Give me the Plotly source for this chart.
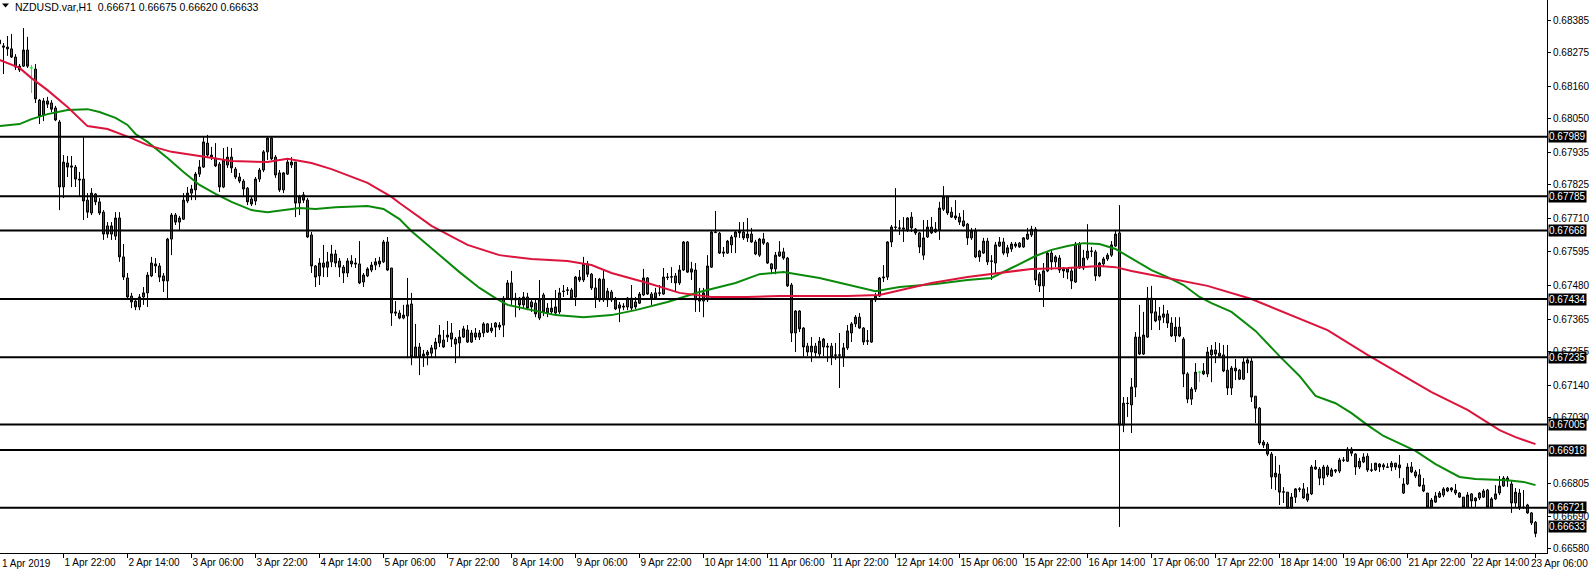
import plotly.graph_objects as go

# ---------------- data ----------------
bar_index = list(range(385))

open_ = [
0.68319,0.68299,0.68295,0.68289,0.68261,0.68217,0.68230,0.68285,0.68224,0.68220,
0.68114,0.68063,0.68111,0.68104,0.68087,0.68039,0.67817,0.67899,0.67889,0.67885,
0.67844,0.67844,0.67772,0.67728,0.67793,0.67766,0.67731,0.67684,0.67656,0.67649,
0.67711,0.67578,0.67506,0.67444,0.67427,0.67407,0.67441,0.67455,0.67513,0.67554,
0.67547,0.67513,0.67496,0.67639,0.67721,0.67697,0.67707,0.67769,0.67796,0.67807,
0.67861,0.67885,0.67967,0.67926,0.67916,0.67895,0.67817,0.67892,0.67919,0.67878,
0.67851,0.67837,0.67813,0.67776,0.67769,0.67844,0.67875,0.67937,0.67984,0.67919,
0.67865,0.67807,0.67861,0.67892,0.67902,0.67762,0.67790,0.67772,0.67653,0.67547,
0.67513,0.67557,0.67543,0.67561,0.67588,0.67564,0.67543,0.67523,0.67564,0.67557,
0.67554,0.67492,0.67513,0.67533,0.67550,0.67554,0.67561,0.67629,0.67540,0.67390,
0.67386,0.67369,0.67376,0.67417,0.67236,0.67270,0.67239,0.67243,0.67249,0.67263,
0.67284,0.67294,0.67311,0.67318,0.67297,0.67284,0.67304,0.67328,0.67287,0.67318,
0.67304,0.67318,0.67349,0.67325,0.67352,0.67338,0.67345,0.67437,0.67489,0.67431,
0.67437,0.67414,0.67441,0.67424,0.67420,0.67369,0.67448,0.67403,0.67390,0.67386,
0.67390,0.67461,0.67465,0.67465,0.67441,0.67509,0.67499,0.67554,0.67519,0.67472,
0.67431,0.67502,0.67431,0.67458,0.67431,0.67414,0.67410,0.67407,0.67437,0.67424,
0.67420,0.67448,0.67506,0.67451,0.67455,0.67455,0.67451,0.67509,0.67509,0.67513,
0.67489,0.67533,0.67629,0.67537,0.67533,0.67437,0.67427,0.67431,0.67543,0.67663,
0.67659,0.67595,0.67591,0.67619,0.67646,0.67666,0.67663,0.67643,0.67656,0.67629,
0.67584,0.67639,0.67625,0.67554,0.67537,0.67595,0.67595,0.67574,0.67482,0.67318,
0.67393,0.67335,0.67273,0.67253,0.67273,0.67246,0.67270,0.67273,0.67273,0.67243,
0.67242,0.67236,0.67267,0.67318,0.67349,0.67372,0.67335,0.67290,0.67287,0.67431,
0.67444,0.67506,0.67509,0.67629,0.67680,0.67677,0.67677,0.67670,0.67714,0.67673,
0.67660,0.67584,0.67646,0.67680,0.67673,0.67670,0.67741,0.67783,0.67731,0.67718,
0.67714,0.67701,0.67690,0.67643,0.67666,0.67598,0.67591,0.67632,0.67564,0.67557,
0.67615,0.67629,0.67591,0.67605,0.67615,0.67625,0.67612,0.67639,0.67653,0.67673,
0.67519,0.67479,0.67530,0.67591,0.67561,0.67574,0.67540,0.67537,0.67530,0.67492,
0.67622,0.67540,0.67574,0.67598,0.67595,0.67513,0.67554,0.67571,0.67584,0.67615,
0.67660,0.67003,0.67078,0.67072,0.67133,0.67304,0.67246,0.67304,0.67437,0.67390,
0.67362,0.67372,0.67383,0.67352,0.67308,0.67338,0.67297,0.67178,0.67092,0.67126,
0.67184,0.67188,0.67178,0.67243,0.67260,0.67249,0.67243,0.67191,0.67130,0.67198,
0.67191,0.67160,0.67215,0.67222,0.67102,0.67061,0.66945,0.66938,0.66904,0.66826,
0.66836,0.66774,0.66774,0.66720,0.66757,0.66785,0.66785,0.66747,0.66768,0.66860,
0.66853,0.66822,0.66860,0.66829,0.66850,0.66846,0.66884,0.66880,0.66921,0.66904,
0.66860,0.66877,0.66897,0.66850,0.66850,0.66870,0.66860,0.66860,0.66860,0.66873,
0.66867,0.66771,0.66802,0.66860,0.66843,0.66833,0.66798,0.66771,0.66723,0.66740,
0.66757,0.66764,0.66788,0.66788,0.66781,0.66771,0.66757,0.66723,0.66768,0.66754,
0.66754,0.66757,0.66781,0.66723,0.66751,0.66771,0.66795,0.66822,0.66802,0.66737,
0.66771,0.66723,0.66730,0.66703,0.66671]

high = [
0.68364,0.68309,0.68333,0.68340,0.68271,0.68237,0.68360,0.68330,0.68234,0.68237,
0.68118,0.68121,0.68125,0.68114,0.68094,0.68046,0.67926,0.67923,0.67923,0.67892,
0.67868,0.67988,0.67796,0.67813,0.67796,0.67779,0.67738,0.67697,0.67697,0.67731,
0.67731,0.67622,0.67523,0.67455,0.67437,0.67451,0.67475,0.67526,0.67578,0.67574,
0.67557,0.67523,0.67643,0.67728,0.67728,0.67718,0.67796,0.67817,0.67824,0.67868,
0.67909,0.67988,0.67995,0.67954,0.67967,0.67902,0.67950,0.67954,0.67950,0.67885,
0.67865,0.67844,0.67817,0.67783,0.67851,0.67882,0.67943,0.67988,0.67988,0.67926,
0.67875,0.67868,0.67909,0.67919,0.67902,0.67790,0.67800,0.67779,0.67663,0.67550,
0.67574,0.67619,0.67595,0.67619,0.67602,0.67574,0.67550,0.67574,0.67584,0.67574,
0.67632,0.67523,0.67543,0.67561,0.67574,0.67578,0.67636,0.67646,0.67540,0.67427,
0.67396,0.67414,0.67506,0.67455,0.67349,0.67284,0.67260,0.67260,0.67277,0.67301,
0.67345,0.67328,0.67359,0.67352,0.67304,0.67328,0.67342,0.67345,0.67328,0.67335,
0.67328,0.67355,0.67352,0.67352,0.67355,0.67355,0.67444,0.67499,0.67530,0.67455,
0.67441,0.67458,0.67455,0.67437,0.67437,0.67499,0.67455,0.67420,0.67431,0.67465,
0.67472,0.67482,0.67475,0.67472,0.67513,0.67533,0.67578,0.67564,0.67523,0.67506,
0.67506,0.67533,0.67472,0.67465,0.67441,0.67424,0.67420,0.67441,0.67482,0.67441,
0.67458,0.67537,0.67509,0.67458,0.67472,0.67482,0.67540,0.67523,0.67543,0.67523,
0.67550,0.67632,0.67632,0.67561,0.67557,0.67472,0.67472,0.67584,0.67670,0.67735,
0.67663,0.67612,0.67636,0.67653,0.67670,0.67697,0.67697,0.67711,0.67677,0.67636,
0.67643,0.67660,0.67629,0.67557,0.67595,0.67632,0.67609,0.67578,0.67489,0.67396,
0.67396,0.67338,0.67284,0.67304,0.67284,0.67304,0.67301,0.67284,0.67284,0.67284,
0.67318,0.67284,0.67345,0.67355,0.67379,0.67386,0.67338,0.67328,0.67437,0.67455,
0.67509,0.67550,0.67632,0.67687,0.67813,0.67704,0.67714,0.67714,0.67731,0.67677,
0.67663,0.67704,0.67704,0.67714,0.67697,0.67766,0.67820,0.67786,0.67748,0.67772,
0.67728,0.67738,0.67694,0.67677,0.67677,0.67602,0.67643,0.67643,0.67584,0.67629,
0.67646,0.67643,0.67619,0.67629,0.67629,0.67629,0.67646,0.67677,0.67684,0.67680,
0.67526,0.67557,0.67595,0.67602,0.67584,0.67584,0.67543,0.67540,0.67540,0.67629,
0.67629,0.67602,0.67690,0.67612,0.67602,0.67561,0.67578,0.67591,0.67632,0.67670,
0.67755,0.67099,0.67099,0.67164,0.67321,0.67414,0.67390,0.67475,0.67479,0.67431,
0.67407,0.67414,0.67396,0.67372,0.67372,0.67372,0.67304,0.67184,0.67133,0.67215,
0.67188,0.67215,0.67270,0.67277,0.67287,0.67284,0.67277,0.67277,0.67205,0.67229,
0.67195,0.67232,0.67232,0.67232,0.67102,0.67065,0.66952,0.66945,0.66911,0.66897,
0.66867,0.66791,0.66774,0.66771,0.66788,0.66791,0.66805,0.66791,0.66867,0.66884,
0.66860,0.66867,0.66867,0.66857,0.66853,0.66891,0.66894,0.66928,0.66928,0.66907,
0.66891,0.66907,0.66907,0.66873,0.66874,0.66873,0.66873,0.66873,0.66880,0.66874,
0.66901,0.66822,0.66873,0.66877,0.66850,0.66853,0.66822,0.66771,0.66754,0.66774,
0.66778,0.66791,0.66791,0.66791,0.66802,0.66774,0.66757,0.66774,0.66771,0.66757,
0.66774,0.66785,0.66785,0.66757,0.66798,0.66829,0.66829,0.66829,0.66815,0.66788,
0.66785,0.66781,0.66734,0.66706,0.66675]

low = [
0.68285,0.68203,0.68265,0.68258,0.68217,0.68210,0.68227,0.68224,0.68138,0.68104,
0.68032,0.68042,0.68087,0.68073,0.68042,0.67738,0.67779,0.67851,0.67817,0.67817,
0.67783,0.67704,0.67711,0.67721,0.67755,0.67721,0.67636,0.67643,0.67636,0.67636,
0.67561,0.67499,0.67431,0.67403,0.67396,0.67396,0.67414,0.67407,0.67509,0.67523,
0.67492,0.67458,0.67431,0.67584,0.67687,0.67670,0.67704,0.67762,0.67772,0.67772,
0.67851,0.67882,0.67916,0.67909,0.67885,0.67800,0.67813,0.67882,0.67865,0.67844,
0.67830,0.67783,0.67755,0.67752,0.67755,0.67834,0.67868,0.67909,0.67909,0.67848,
0.67800,0.67796,0.67858,0.67882,0.67714,0.67721,0.67762,0.67643,0.67523,0.67475,
0.67482,0.67509,0.67509,0.67543,0.67543,0.67509,0.67489,0.67509,0.67543,0.67540,
0.67485,0.67475,0.67509,0.67526,0.67533,0.67543,0.67557,0.67530,0.67342,0.67376,
0.67365,0.67365,0.67232,0.67208,0.67232,0.67174,0.67202,0.67208,0.67236,0.67236,
0.67270,0.67267,0.67287,0.67270,0.67215,0.67236,0.67301,0.67284,0.67284,0.67294,
0.67294,0.67304,0.67318,0.67318,0.67304,0.67328,0.67304,0.67431,0.67414,0.67372,
0.67396,0.67403,0.67396,0.67390,0.67372,0.67362,0.67376,0.67372,0.67383,0.67379,
0.67383,0.67441,0.67448,0.67431,0.67410,0.67492,0.67492,0.67509,0.67465,0.67403,
0.67424,0.67424,0.67407,0.67424,0.67396,0.67355,0.67396,0.67396,0.67396,0.67400,
0.67417,0.67444,0.67448,0.67414,0.67431,0.67444,0.67448,0.67499,0.67489,0.67458,
0.67482,0.67530,0.67523,0.67499,0.67390,0.67390,0.67372,0.67424,0.67540,0.67659,
0.67588,0.67578,0.67588,0.67591,0.67591,0.67643,0.67636,0.67629,0.67626,0.67584,
0.67578,0.67619,0.67554,0.67519,0.67519,0.67578,0.67568,0.67475,0.67287,0.67253,
0.67321,0.67236,0.67239,0.67219,0.67236,0.67236,0.67239,0.67219,0.67208,0.67226,
0.67130,0.67202,0.67260,0.67287,0.67338,0.67332,0.67277,0.67277,0.67284,0.67424,
0.67441,0.67492,0.67499,0.67612,0.67670,0.67653,0.67629,0.67663,0.67663,0.67653,
0.67591,0.67568,0.67643,0.67656,0.67660,0.67636,0.67735,0.67721,0.67711,0.67704,
0.67687,0.67680,0.67619,0.67636,0.67574,0.67561,0.67588,0.67550,0.67499,0.67523,
0.67612,0.67584,0.67578,0.67595,0.67609,0.67609,0.67609,0.67636,0.67646,0.67482,
0.67458,0.67407,0.67526,0.67533,0.67543,0.67523,0.67506,0.67502,0.67468,0.67489,
0.67537,0.67533,0.67567,0.67578,0.67496,0.67509,0.67543,0.67564,0.67578,0.67612,
0.66655,0.66979,0.67031,0.66976,0.67099,0.67243,0.67243,0.67301,0.67328,0.67355,
0.67328,0.67352,0.67335,0.67304,0.67287,0.67304,0.67133,0.67078,0.67072,0.67116,
0.67150,0.67174,0.67167,0.67150,0.67215,0.67236,0.67184,0.67106,0.67106,0.67157,
0.67157,0.67157,0.67181,0.67082,0.67010,0.66935,0.66925,0.66897,0.66785,0.66781,
0.66730,0.66737,0.66717,0.66717,0.66737,0.66774,0.66751,0.66740,0.66764,0.66850,
0.66798,0.66798,0.66826,0.66826,0.66839,0.66839,0.66877,0.66877,0.66897,0.66833,
0.66853,0.66873,0.66843,0.66843,0.66846,0.66843,0.66850,0.66857,0.66846,0.66850,
0.66822,0.66768,0.66798,0.66839,0.66822,0.66792,0.66774,0.66720,0.66720,0.66737,
0.66754,0.66757,0.66774,0.66774,0.66764,0.66754,0.66720,0.66720,0.66723,0.66723,
0.66747,0.66754,0.66720,0.66720,0.66747,0.66764,0.66792,0.66792,0.66703,0.66723,
0.66713,0.66717,0.66700,0.66662,0.66620]

close = [
0.68306,0.68295,0.68289,0.68261,0.68227,0.68230,0.68285,0.68230,0.68224,0.68118,
0.68060,0.68111,0.68100,0.68083,0.68046,0.67817,0.67902,0.67885,0.67885,0.67844,
0.67841,0.67769,0.67731,0.67796,0.67766,0.67728,0.67656,0.67656,0.67684,0.67711,
0.67578,0.67509,0.67441,0.67424,0.67407,0.67441,0.67455,0.67516,0.67557,0.67547,
0.67509,0.67496,0.67639,0.67721,0.67697,0.67711,0.67772,0.67796,0.67810,0.67861,
0.67885,0.67971,0.67926,0.67919,0.67889,0.67817,0.67909,0.67919,0.67882,0.67851,
0.67837,0.67810,0.67766,0.67759,0.67844,0.67875,0.67937,0.67984,0.67913,0.67858,
0.67807,0.67865,0.67902,0.67902,0.67762,0.67783,0.67772,0.67646,0.67547,0.67509,
0.67557,0.67543,0.67561,0.67588,0.67557,0.67543,0.67523,0.67564,0.67554,0.67554,
0.67489,0.67516,0.67537,0.67550,0.67561,0.67564,0.67629,0.67533,0.67386,0.67386,
0.67369,0.67379,0.67414,0.67236,0.67270,0.67236,0.67246,0.67253,0.67267,0.67287,
0.67311,0.67270,0.67304,0.67297,0.67280,0.67304,0.67332,0.67287,0.67318,0.67304,
0.67318,0.67349,0.67321,0.67335,0.67338,0.67345,0.67437,0.67489,0.67431,0.67437,
0.67414,0.67441,0.67403,0.67407,0.67383,0.67431,0.67390,0.67386,0.67403,0.67407,
0.67455,0.67460,0.67464,0.67437,0.67509,0.67499,0.67554,0.67519,0.67472,0.67437,
0.67502,0.67431,0.67461,0.67431,0.67400,0.67403,0.67407,0.67437,0.67403,0.67407,
0.67451,0.67506,0.67451,0.67437,0.67437,0.67454,0.67509,0.67508,0.67510,0.67489,
0.67533,0.67629,0.67526,0.67526,0.67431,0.67427,0.67455,0.67547,0.67663,0.67662,
0.67591,0.67591,0.67632,0.67646,0.67663,0.67660,0.67643,0.67656,0.67629,0.67588,
0.67639,0.67625,0.67557,0.67537,0.67584,0.67581,0.67574,0.67479,0.67318,0.67393,
0.67332,0.67270,0.67253,0.67273,0.67250,0.67290,0.67297,0.67270,0.67236,0.67242,
0.67243,0.67267,0.67325,0.67349,0.67372,0.67335,0.67287,0.67291,0.67431,0.67444,
0.67506,0.67509,0.67629,0.67680,0.67679,0.67676,0.67673,0.67711,0.67677,0.67660,
0.67612,0.67643,0.67680,0.67660,0.67663,0.67745,0.67783,0.67728,0.67714,0.67711,
0.67697,0.67684,0.67643,0.67666,0.67578,0.67578,0.67632,0.67561,0.67563,0.67619,
0.67629,0.67591,0.67609,0.67622,0.67622,0.67612,0.67643,0.67656,0.67673,0.67499,
0.67479,0.67530,0.67591,0.67561,0.67578,0.67533,0.67530,0.67526,0.67496,0.67622,
0.67540,0.67574,0.67598,0.67597,0.67513,0.67557,0.67571,0.67584,0.67619,0.67656,
0.67003,0.67078,0.67077,0.67133,0.67304,0.67246,0.67311,0.67437,0.67386,0.67359,
0.67376,0.67383,0.67352,0.67308,0.67338,0.67308,0.67178,0.67092,0.67126,0.67184,
0.67184,0.67178,0.67253,0.67260,0.67246,0.67239,0.67188,0.67130,0.67198,0.67188,
0.67160,0.67219,0.67226,0.67099,0.67061,0.66942,0.66935,0.66904,0.66826,0.66839,
0.66774,0.66775,0.66720,0.66757,0.66785,0.66784,0.66754,0.66768,0.66860,0.66853,
0.66822,0.66860,0.66833,0.66850,0.66846,0.66884,0.66883,0.66921,0.66907,0.66860,
0.66880,0.66894,0.66850,0.66849,0.66873,0.66860,0.66867,0.66859,0.66873,0.66860,
0.66857,0.66802,0.66860,0.66843,0.66829,0.66795,0.66778,0.66723,0.66747,0.66761,
0.66771,0.66785,0.66778,0.66781,0.66771,0.66757,0.66723,0.66764,0.66744,0.66744,
0.66771,0.66778,0.66723,0.66751,0.66768,0.66795,0.66822,0.66812,0.66737,0.66774,
0.66720,0.66722,0.66703,0.66669,0.66633]

# bars drawn in the "bar up" (lime) colour
lime_bars = [8, 300]

# moving averages, sampled along the chart
red_ma_bar = [0,5,8,12,17,22,27,33,37,43,50,58,67,72,78,83,92,98,100,108,
              117,125,133,142,148,153,162,170,178,187,195,203,212,220,228,233,242,250,258,267,
              275,279,283,292,302,313,322,332,342,350,358,367,375,379,384]
red_ma_val = [0.68251,0.68224,0.68189,0.68148,0.68090,0.68025,0.68015,0.67984,0.67960,0.67937,
              0.67923,0.67906,0.67902,0.67913,0.67899,0.67878,0.67831,0.67783,0.67762,0.67684,
              0.67619,0.67584,0.67571,0.67564,0.67550,0.67523,0.67489,0.67455,0.67441,0.67441,
              0.67444,0.67444,0.67444,0.67448,0.67472,0.67489,0.67509,0.67523,0.67537,0.67540,
              0.67547,0.67543,0.67530,0.67506,0.67479,0.67434,0.67383,0.67328,0.67243,0.67181,
              0.67116,0.67055,0.66986,0.66962,0.66938]

green_ma_bar = [0,5,8,12,17,22,25,29,32,34,37,42,46,50,54,58,63,67,75,79,
                84,92,96,100,103,109,115,120,124,127,134,139,146,153,159,167,175,184,190,196,
                205,213,219,225,234,242,248,253,259,263,267,271,275,279,284,288,292,296,300,303,
                308,314,320,325,329,334,338,342,346,354,359,365,369,377,381,384]
green_ma_val = [0.68025,0.68032,0.68049,0.68066,0.68080,0.68083,0.68073,0.68053,0.68029,0.67998,
                0.67971,0.67916,0.67868,0.67824,0.67793,0.67766,0.67738,0.67731,0.67745,0.67742,
                0.67748,0.67752,0.67742,0.67707,0.67666,0.67595,0.67526,0.67472,0.67437,0.67414,
                0.67393,0.67379,0.67372,0.67379,0.67396,0.67424,0.67458,0.67489,0.67519,0.67526,
                0.67506,0.67479,0.67461,0.67475,0.67485,0.67499,0.67506,0.67540,0.67581,0.67602,
                0.67615,0.67625,0.67622,0.67605,0.67564,0.67533,0.67509,0.67482,0.67441,0.67420,
                0.67390,0.67325,0.67239,0.67171,0.67103,0.67078,0.67044,0.67003,0.66966,0.66915,
                0.66870,0.66826,0.66819,0.66815,0.66809,0.66798]

# horizontal levels
level_prices = [0.67989, 0.67785, 0.67668, 0.67434, 0.67235, 0.67005, 0.66918, 0.66721]
last_price = 0.66633

# axes
time_tick_bars = list(range(0, 385, 16))
time_tick_text = ["1 Apr 2019", "1 Apr 22:00", "2 Apr 14:00", "3 Apr 06:00", "3 Apr 22:00",
                  "4 Apr 14:00", "5 Apr 06:00", "7 Apr 22:00", "8 Apr 14:00", "9 Apr 06:00",
                  "9 Apr 22:00", "10 Apr 14:00", "11 Apr 06:00", "11 Apr 22:00", "12 Apr 14:00",
                  "15 Apr 06:00", "15 Apr 22:00", "16 Apr 14:00", "17 Apr 06:00", "17 Apr 22:00",
                  "18 Apr 14:00", "19 Apr 06:00", "21 Apr 22:00", "22 Apr 14:00", "23 Apr 06:00"]
price_ticks = [0.68385, 0.68275, 0.68160, 0.68050, 0.67935, 0.67825, 0.67710, 0.67595, 0.67480,
               0.67365, 0.67255, 0.67140, 0.67030, 0.66805, 0.66690, 0.66580]
header_text = "NZDUSD.var,H1  0.66671 0.66675 0.66620 0.66633"

# ---------------- styling ----------------
BULL = "#0B7D0B"
BEAR = "#B8232E"
RED_MA = "#DC143C"
GREEN_MA = "#0A8A0A"
FONT = "Liberation Sans"
FS = 10

W, H = 1590, 571
ML, MR, MT, MB = 0, 43, 0, 18
PW, PH = W - ML - MR, H - MT - MB
X0 = 0.125                 # left edge of the plot in bar units
X1 = X0 + PW / 4.0         # 4 px per bar

main = [i for i in bar_index if i not in lime_bars]
pick = lambda arr, idx: [arr[i] for i in idx]

fig = go.Figure()
fig.add_trace(go.Candlestick(
    x=main, open=pick(open_, main), high=pick(high, main), low=pick(low, main), close=pick(close, main),
    increasing=dict(fillcolor=BULL, line=dict(color="black", width=1)),
    decreasing=dict(fillcolor=BEAR, line=dict(color="black", width=1)),
    whiskerwidth=0, showlegend=False, hoverinfo="skip"))
fig.add_trace(go.Candlestick(
    x=lime_bars, open=pick(open_, lime_bars), high=pick(high, lime_bars),
    low=pick(low, lime_bars), close=pick(close, lime_bars),
    increasing=dict(fillcolor="#00FF00", line=dict(color="#00FF00", width=1)),
    decreasing=dict(fillcolor="#00FF00", line=dict(color="#00FF00", width=1)),
    whiskerwidth=0, showlegend=False, hoverinfo="skip"))

fig.add_trace(go.Scatter(x=green_ma_bar, y=green_ma_val, mode="lines",
                         line=dict(color=GREEN_MA, width=2), showlegend=False, hoverinfo="skip"))
fig.add_trace(go.Scatter(x=red_ma_bar, y=red_ma_val, mode="lines",
                         line=dict(color=RED_MA, width=2), showlegend=False, hoverinfo="skip"))

shapes = []
annotations = []
for lv in level_prices:
    shapes.append(dict(type="line", xref="paper", x0=0, x1=1, yref="y", y0=lv, y1=lv,
                       line=dict(color="black", width=2), layer="above"))
    annotations.append(dict(xref="paper", x=1, xanchor="left", xshift=1, yref="y", y=lv,
                            yanchor="middle", text=f"{lv:.5f}", showarrow=False,
                            bgcolor="black", borderpad=0,
                            font=dict(family=FONT, size=FS, color="white")))
annotations.append(dict(xref="paper", x=1, xanchor="left", xshift=1, yref="y", y=last_price,
                        yanchor="middle", yshift=7, text=f"{last_price:.5f}", showarrow=False,
                        bgcolor="black", borderpad=0,
                        font=dict(family=FONT, size=FS, color="white")))
# first time label sits on the partly hidden first bar
annotations.append(dict(xref="paper", x=0, xanchor="left", xshift=0, yref="paper", y=0,
                        yanchor="top", yshift=-3, text=time_tick_text[0], showarrow=False,
                        font=dict(family=FONT, size=FS, color="black")))
# last time label is pushed in so that it ends at the right edge
annotations.append(dict(xref="paper", x=W / PW, xanchor="right", xshift=0, yref="paper", y=0,
                        yanchor="top", yshift=-3, text=time_tick_text[-1], showarrow=False,
                        font=dict(family=FONT, size=FS, color="black")))
# header
annotations.append(dict(xref="paper", x=13 / PW, xanchor="left", yref="paper", y=1, yanchor="top",
                        yshift=1, text=header_text, showarrow=False,
                        font=dict(family=FONT, size=10.5, color="black")))
shapes.append(dict(type="path", xref="paper", yref="paper",
                   path=f"M {2/PW},{1-3.5/PH} L {9/PW},{1-3.5/PH} L {5.5/PW},{1-7.5/PH} Z",
                   fillcolor="black", line=dict(color="black", width=0)))

x_tick_text = time_tick_text[1:-1] + [""]

fig.update_layout(
    width=W, height=H, margin=dict(l=ML, r=MR, t=MT, b=MB, autoexpand=False),
    paper_bgcolor="white", plot_bgcolor="white", showlegend=False,
    boxgap=0.5, boxgroupgap=0,
    font=dict(family=FONT, size=FS, color="black"),
    xaxis=dict(type="linear", range=[X0, X1], tickmode="array", tickvals=time_tick_bars[1:],
               ticktext=x_tick_text, ticks="outside", ticklen=4, tickcolor="black",
               ticklabelposition="outside right", ticklabeloverflow="allow",
               tickangle=0, automargin=False,
               showline=True, linecolor="black", linewidth=1, mirror=False,
               showgrid=False, zeroline=False, rangeslider=dict(visible=False),
               tickfont=dict(family=FONT, size=FS, color="black"), fixedrange=True),
    yaxis=dict(side="right", range=[0.66566, 0.68456], tickmode="array", tickvals=price_ticks,
               ticktext=[f"{v:.5f}" for v in price_ticks], ticks="outside", ticklen=3,
               tickcolor="black", showline=True, linecolor="black", linewidth=1,
               showgrid=False, zeroline=False, automargin=False, ticklabeloverflow="allow",
               tickfont=dict(family=FONT, size=FS, color="black"), fixedrange=True),
    shapes=shapes, annotations=annotations,
)

fig.write_html("out.html", config={"displayModeBar": False},
               post_script="document.body.style.margin='0';document.body.style.padding='0';"
                           "document.body.style.overflow='hidden';")
